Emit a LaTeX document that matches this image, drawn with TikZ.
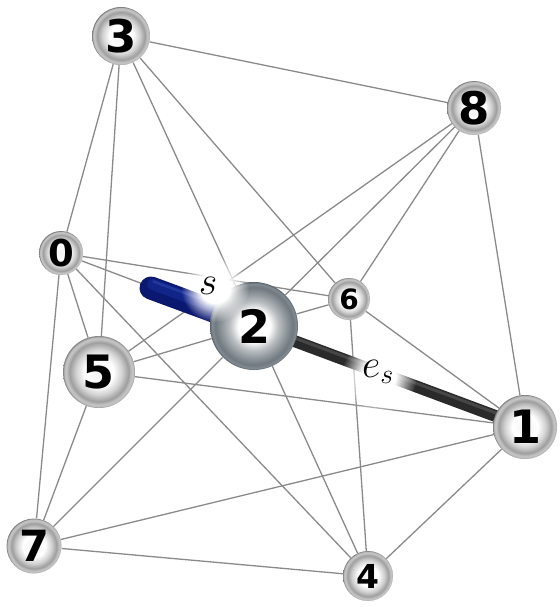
\RequirePackage{fix-cm}
\documentclass[tikz,border=0pt]{standalone}
\usepackage{fontspec}
\newfontfamily\digitfont{DejaVu Sans}
\usetikzlibrary{fadings}

% pearl-white vertex spheres (radius of the node <-> 25bp)
\pgfdeclareradialshading{pearl}{\pgfpointorigin}{%
  color(0bp)=(black!5); color(10bp)=(white); color(16bp)=(black!18);
  color(20.5bp)=(black!38); color(23bp)=(black!22); color(24.3bp)=(black!28);
  color(25bp)=(black!50); color(50bp)=(black!50)}
% metallic sphere for the selected vertex
\definecolor{steelA}{HTML}{B8BDC0}
\definecolor{steelB}{HTML}{939A9F}
\definecolor{steelC}{HTML}{6F797F}
\definecolor{steelD}{HTML}{818A90}
\definecolor{steelE}{HTML}{5A646C}
\pgfdeclareradialshading{steel}{\pgfpointorigin}{%
  color(0bp)=(white); color(9bp)=(white); color(14bp)=(steelA);
  color(18bp)=(steelB); color(22bp)=(steelC); color(24bp)=(steelD);
  color(25bp)=(steelE); color(50bp)=(steelE)}
% soft white halo behind the rod labels
\pgfdeclareradialshading{haloshade}{\pgfpointorigin}{%
  color(0bp)=(white); color(11bp)=(white); color(25bp)=(black);
  color(50bp)=(black)}
\pgfdeclarefading{halofade}{\pgfuseshading{haloshade}}

\definecolor{rodblue}{HTML}{0A1870}
\definecolor{rodblueA}{HTML}{112487}
\definecolor{rodblueB}{HTML}{22399C}
\definecolor{roddark}{HTML}{2A2A2A}
\definecolor{roddarkA}{HTML}{464646}
\definecolor{linkgray}{HTML}{8A8A8A}

\pgfdeclarelayer{back}
\pgfdeclarelayer{front}
\pgfsetlayers{back,main,front}

\tikzset{
  link/.style={draw=linkgray, line width=1.3pt},
  ball/.style 2 args={circle, inner sep=0pt, shading=pearl,
    minimum size=#1pt, font=\digitfont\bfseries\fontsize{#2}{#2}\selectfont},
  bigball/.style 2 args={ball={#1}{#2}, shading=steel},
  rodlabel/.style={inner sep=0pt, font=\fontsize{40}{40}\selectfont},
  halo/.style={fill=white, path fading=halofade},
}

\begin{document}
\begin{tikzpicture}[x=1pt,y=-1pt]
\useasboundingbox (0,0) rectangle (559,607);

% vertices
\node[ball={58}{45}]    (n3) at (121,36)  {3};
\node[ball={54}{45}]    (n8) at (474,108) {8};
\node[ball={44}{37}]    (n0) at (61,253)  {0};
\node[ball={42}{28}]    (n6) at (349,299) {6};
\node[bigball={88}{46}] (n2) at (254,326) {2};
\node[ball={72}{46}]    (n5) at (99,372)  {5};
\node[ball={64}{46}]    (n1) at (525,427) {1};
\node[ball={55}{43}]    (n7) at (34,546)  {7};
\node[ball={50}{33}]    (n4) at (368,576) {4};

\coordinate (sEnd) at (151,288);

\begin{pgfonlayer}{back}
  % edges
  \draw[link] (n3) -- (n8);
  \draw[link] (n3) -- (n0);
  \draw[link] (n3) -- (n5);
  \draw[link] (n3) -- (n2);
  \draw[link] (n3) -- (n6);
  \draw[link] (n8) -- (n1);
  \draw[link] (n8) -- (n6);
  \draw[link] (n8) -- (n5);
  \draw[link] (n8) -- (n2);
  \draw[link] (n0) -- (n6);
  \draw[link] (n0) -- (n2);
  \draw[link] (n0) -- (n5);
  \draw[link] (n0) -- (n7);
  \draw[link] (n0) -- (n4);
  \draw[link] (n5) -- (n2);
  \draw[link] (n5) -- (n1);
  \draw[link] (n5) -- (n7);
  \draw[link] (n2) -- (n6);
  \draw[link] (n2) -- (n4);
  \draw[link] (n2) -- (n7);
  \draw[link] (n6) -- (n1);
  \draw[link] (n6) -- (n4);
  \draw[link] (n7) -- (n1);
  \draw[link] (n7) -- (n4);
  \draw[link] (n4) -- (n1);

  % blue rod on edge 0--2
  \draw[rodblue, line width=23pt, line cap=round] (sEnd) -- (n2.center);
  \draw[rodblueA, line width=11pt, line cap=round]
    ([shift={(1.4,-3.7)}]sEnd) -- ([shift={(1.4,-3.7)}]n2.center);
  \draw[rodblueB, line width=2.5pt, line cap=round]
    ([shift={(2.5,-6.5)}]sEnd) -- ([shift={(2.5,-6.5)}]n2.center);

  % dark rod on edge 2--1
  \draw[roddark, line width=12pt] (n2.center) -- (n1.center);
  \draw[roddarkA, line width=3pt]
    ([shift={(1.0,-2.8)}]n2.center) -- ([shift={(1.0,-2.8)}]n1.center);
\end{pgfonlayer}

\begin{pgfonlayer}{front}
  \coordinate (sHalo) at (215,288);
  \coordinate (esHalo) at (379,376);
  \path[halo] (sHalo) circle (34pt);
  \path[halo] (esHalo) circle (38pt);
  \node[rodlabel] (sLab)  at (208,286) {$s$};
  \node[rodlabel] (esLab) at (378,372) {$e_s$};
\end{pgfonlayer}
\end{tikzpicture}
\end{document}
